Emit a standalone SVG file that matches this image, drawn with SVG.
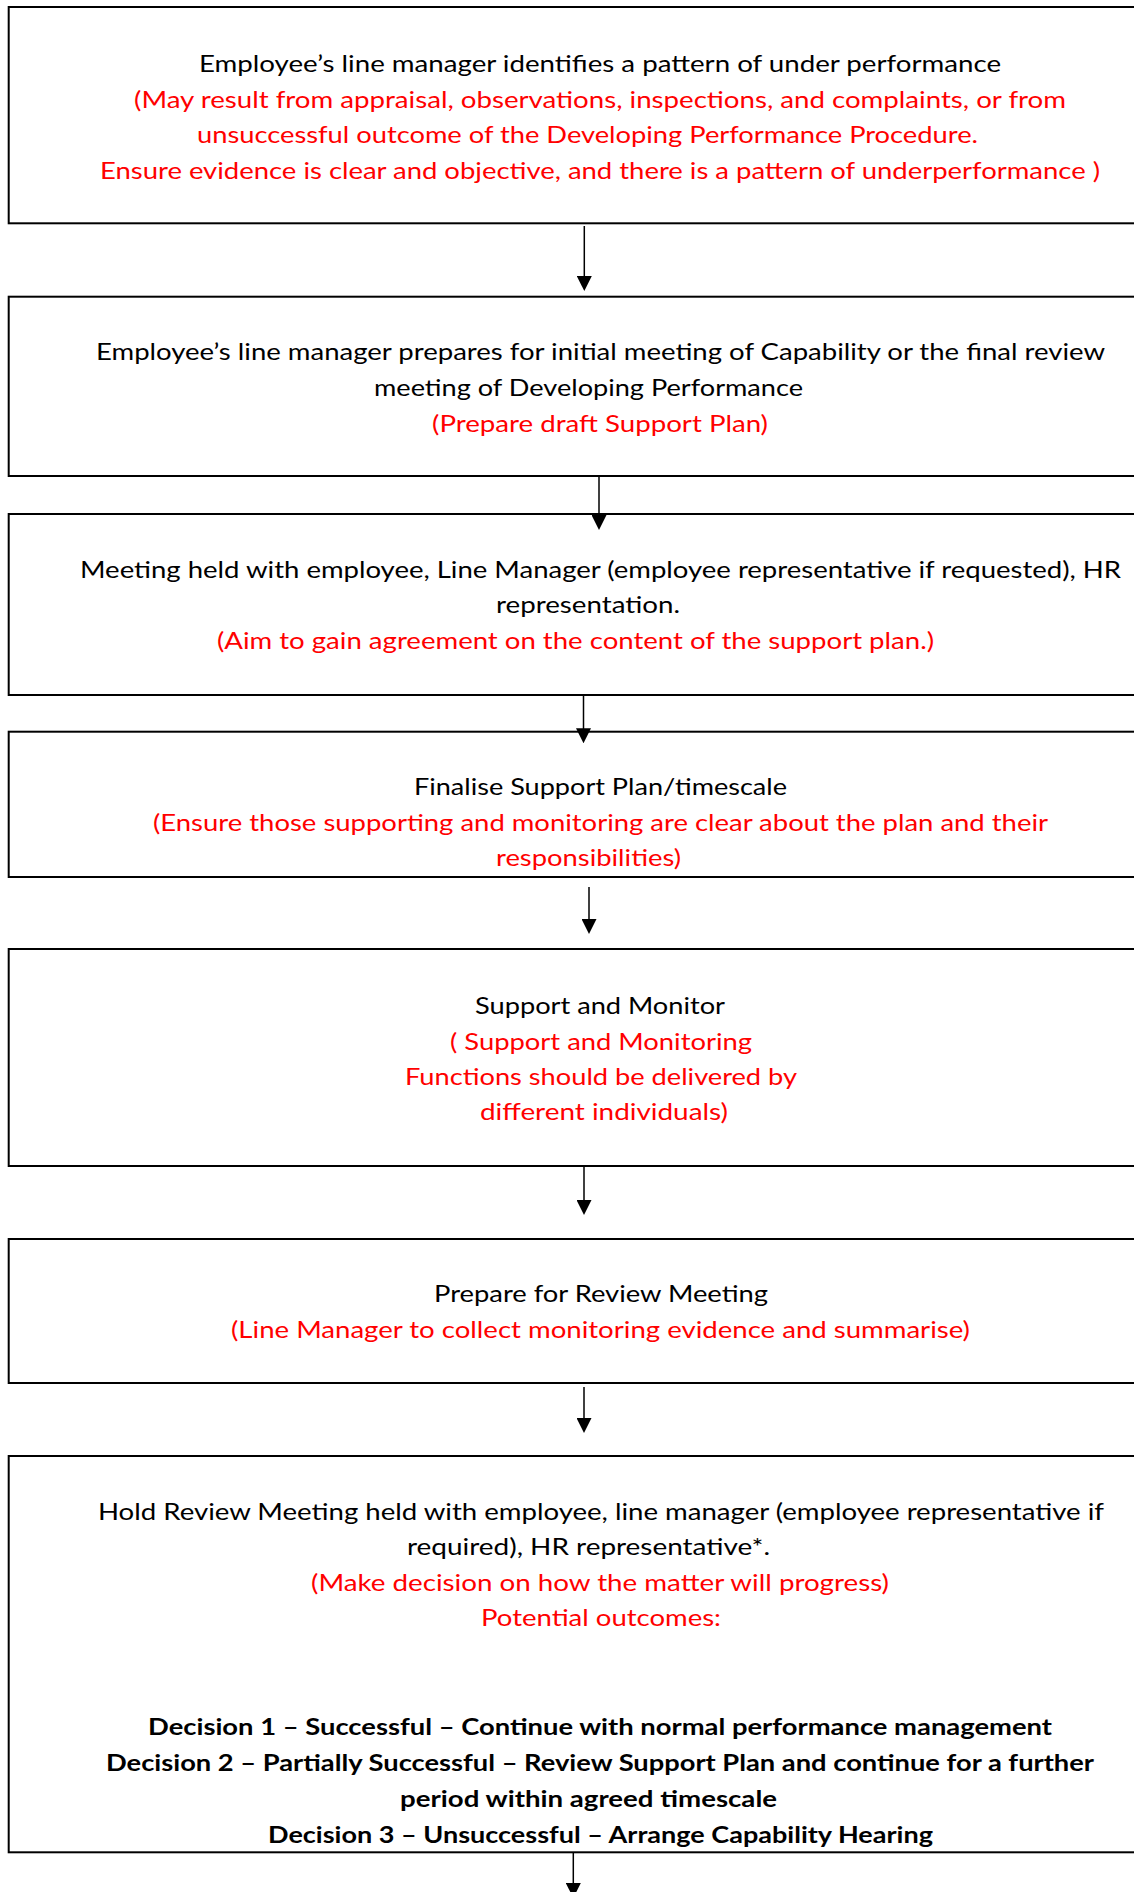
<svg xmlns="http://www.w3.org/2000/svg" width="1134" height="1892" viewBox="0 0 1134 1892">
<style>
.box{fill:#fff;stroke:#000;stroke-width:2}
text{font-family:Lato,"Open Sans","Liberation Sans",sans-serif;font-size:23px}
.k{fill:#000}
.r{fill:#ff0000}
.b{font-weight:bold;fill:#000}
.con{stroke:#000;stroke-width:1.5;fill:none;marker-end:url(#ah)}
</style>
<defs>
<marker id="ah" viewBox="0 0 10 10" refX="3.333" refY="5" markerWidth="15" markerHeight="15" markerUnits="userSpaceOnUse" orient="auto">
<path d="M0,0 L10,5 L0,10 z" fill="#000"/>
</marker>
</defs>
<rect width="1134" height="1892" fill="#fff"/>

<g id="n1">
<rect class="box" x="8.7" y="7" width="1140" height="216.3"/>
<text class="k" x="199" y="72" textLength="802" lengthAdjust="spacingAndGlyphs">Employee’s line manager identifies a pattern of under performance</text>
<text class="r" x="134" y="107.5" textLength="932" lengthAdjust="spacingAndGlyphs">(May result from appraisal, observations, inspections, and complaints, or from</text>
<text class="r" x="197" y="143" textLength="781" lengthAdjust="spacingAndGlyphs">unsuccessful outcome of the Developing Performance Procedure.</text>
<text class="r" x="100" y="178.5" textLength="1000" lengthAdjust="spacingAndGlyphs">Ensure evidence is clear and objective, and there is a pattern of underperformance )</text>
</g>

<g id="n2">
<rect class="box" x="8.7" y="296.7" width="1140" height="179.3"/>
<text class="k" x="96" y="360.2" textLength="1009" lengthAdjust="spacingAndGlyphs">Employee’s line manager prepares for initial meeting of Capability or the final review</text>
<text class="k" x="374" y="396.2" textLength="429" lengthAdjust="spacingAndGlyphs">meeting of Developing Performance</text>
<text class="r" x="432" y="432.2" textLength="336" lengthAdjust="spacingAndGlyphs">(Prepare draft Support Plan)</text>
</g>

<g id="n3">
<rect class="box" x="8.7" y="514" width="1140" height="181"/>
<text class="k" x="80" y="578.2" textLength="1041" lengthAdjust="spacingAndGlyphs">Meeting held with employee, Line Manager (employee representative if requested), HR</text>
<text class="k" x="496" y="613.2" textLength="184" lengthAdjust="spacingAndGlyphs">representation.</text>
<text class="r" x="217" y="649.2" textLength="717" lengthAdjust="spacingAndGlyphs">(Aim to gain agreement on the content of the support plan.)</text>
</g>

<g id="n4">
<rect class="box" x="8.7" y="731.7" width="1140" height="145.3"/>
<text class="k" x="414" y="795.2" textLength="373" lengthAdjust="spacingAndGlyphs">Finalise Support Plan/timescale</text>
<text class="r" x="153" y="831.2" textLength="895" lengthAdjust="spacingAndGlyphs">(Ensure those supporting and monitoring are clear about the plan and their</text>
<text class="r" x="496" y="866.2" textLength="185" lengthAdjust="spacingAndGlyphs">responsibilities)</text>
</g>

<g id="n5">
<rect class="box" x="8.7" y="949" width="1140" height="217"/>
<text class="k" x="475" y="1013.5" textLength="250" lengthAdjust="spacingAndGlyphs">Support and Monitor</text>
<text class="r" x="450" y="1049.5" textLength="302" lengthAdjust="spacingAndGlyphs">( Support and Monitoring</text>
<text class="r" x="405" y="1084.8" textLength="392" lengthAdjust="spacingAndGlyphs">Functions should be delivered by</text>
<text class="r" x="480" y="1120" textLength="248" lengthAdjust="spacingAndGlyphs">different individuals)</text>
</g>

<g id="n6">
<rect class="box" x="8.7" y="1239" width="1140" height="144"/>
<text class="k" x="434" y="1302.2" textLength="334" lengthAdjust="spacingAndGlyphs">Prepare for Review Meeting</text>
<text class="r" x="231" y="1338.2" textLength="739" lengthAdjust="spacingAndGlyphs">(Line Manager to collect monitoring evidence and summarise)</text>
</g>

<g id="n7">
<rect class="box" x="8.7" y="1456" width="1140" height="396.3"/>
<text class="k" x="98" y="1520.2" textLength="1006" lengthAdjust="spacingAndGlyphs">Hold Review Meeting held with employee, line manager (employee representative if</text>
<text class="k" x="407" y="1555.2" textLength="363" lengthAdjust="spacingAndGlyphs">required), HR representative*.</text>
<text class="r" x="311" y="1591.2" textLength="578" lengthAdjust="spacingAndGlyphs">(Make decision on how the matter will progress)</text>
<text class="r" x="481" y="1626.2" textLength="240" lengthAdjust="spacingAndGlyphs">Potential outcomes:</text>
<text class="b" x="148" y="1734.6" textLength="904" lengthAdjust="spacingAndGlyphs">Decision 1 – Successful – Continue with normal performance management</text>
<text class="b" x="106" y="1770.6" textLength="988" lengthAdjust="spacingAndGlyphs">Decision 2 – Partially Successful – Review Support Plan and continue for a further</text>
<text class="b" x="400" y="1806.6" textLength="377" lengthAdjust="spacingAndGlyphs">period within agreed timescale</text>
<text class="b" x="268" y="1842.6" textLength="665" lengthAdjust="spacingAndGlyphs">Decision 3 – Unsuccessful – Arrange Capability Hearing</text>
</g>

<g id="connectors">
<path class="con" d="M584.3,226 V281"/>
<path class="con" d="M599,477 V520"/>
<path class="con" d="M583.5,696 V733.3"/>
<path class="con" d="M589,887 V924"/>
<path class="con" d="M584,1167 V1205"/>
<path class="con" d="M584,1387 V1423"/>
<path class="con" d="M573.3,1853 V1888"/>
</g>
</svg>
